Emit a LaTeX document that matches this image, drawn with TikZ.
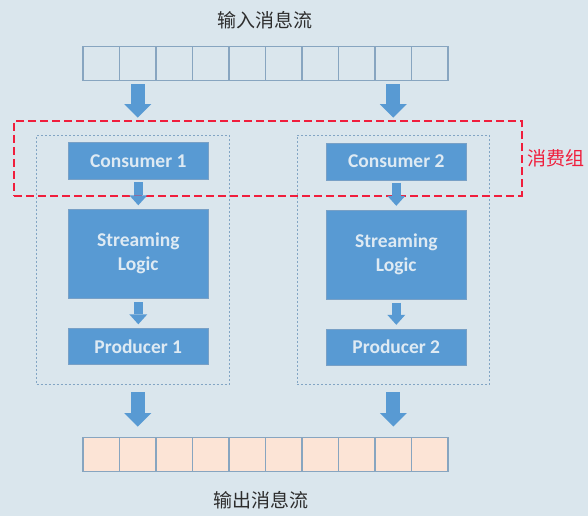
\documentclass[tikz,border=0pt]{standalone}
\usepackage{fontspec}
\setsansfont{Carlito}
\newfontfamily\cjk{Noto Sans CJK SC}
\usetikzlibrary{positioning}
\usetikzlibrary{calc}
\usetikzlibrary{arrows.meta}
\definecolor{sfondo}{RGB}{218,230,237}
\definecolor{blu}{RGB}{88,154,211}
\definecolor{blubordo}{RGB}{120,160,198}
\definecolor{testochiaro}{RGB}{222,234,243}
\definecolor{bordo}{RGB}{135,165,192}
\definecolor{pesca}{RGB}{252,228,214}
\definecolor{grigio}{RGB}{130,165,196}
\definecolor{rosso}{RGB}{240,30,60}
\definecolor{scuro}{RGB}{45,45,45}
\tikzset{
  coda/.style={rectangle, draw=bordo, line width=1.1pt, minimum width=36.5pt,
    minimum height=34pt, inner sep=0pt, outer sep=0pt},
  coda in/.style={coda, fill=sfondo},
  coda out/.style={coda, fill=pesca},
  blocco/.style={rectangle, fill=blu, draw=blubordo, line width=0.6pt,
    minimum width=140pt, inner sep=0pt, outer sep=0pt, text=testochiaro,
    font=\sffamily\bfseries\fontsize{19.5}{24}\selectfont, align=center},
  gruppo/.style={rectangle, draw=grigio, dash pattern=on 2pt off 2pt,
    line width=0.8pt, minimum width=192.6pt, minimum height=249pt},
  gruppo rosso/.style={rectangle, draw=rosso, dash pattern=on 8pt off 4pt,
    line width=1.8pt, minimum width=507.7pt, minimum height=74.7pt},
  freccia/.style={draw=blu, line width=14pt,
    -{Triangle[width=27pt,length=13.5pt,line width=0pt]}},
  freccina/.style={draw=blu, line width=9.4pt,
    -{Triangle[width=18pt,length=10pt,line width=0pt]}},
  titolo/.style={font=\cjk\fontsize{19}{22}\selectfont, text=scuro},
}

\begin{document}
\begin{tikzpicture}[x=1pt,y=-1pt]
    \fill[sfondo] (0,0) rectangle (588,516);
    \useasboundingbox (0,0) rectangle (588,516);

    % code di messaggi
    \foreach \i in {1,...,10}{
        \node[coda in] (in\i) at ({83+36.5*(\i-0.5)},63.5) {};
        \node[coda out] (out\i) at ({83+36.5*(\i-0.5)},454.5) {};
    }
    \node[titolo] (tin) at (265,20) {输入消息流};
    \node[titolo] (tout) at (261,500) {输出消息流};

    % gruppi
    \node[gruppo] (grp1) at (133,259.5) {};
    \node[gruppo] (grp2) at (393.3,259.5) {};

    % colonna 1
    \node[blocco, minimum height=37pt] (cons1) at (138.3,160.8) {Consumer 1};
    \node[blocco, minimum height=89pt, below=30pt of cons1] (logic1) {Streaming\\Logic};
    \node[blocco, minimum height=36pt, below=30pt of logic1] (prod1) {Producer 1};

    % colonna 2
    \node[blocco, minimum height=37pt] (cons2) at (396.3,161.3) {Consumer 2};
    \node[blocco, minimum height=89pt, below=30pt of cons2] (logic2) {Streaming\\Logic};
    \node[blocco, minimum height=36pt, below=30pt of logic2] (prod2) {Producer 2};

    % gruppo di consumo
    \node[gruppo rosso] (cg) at (267.85,158.35) {};
    \node[right=1pt of cg, text=rosso, font=\cjk\fontsize{19}{22}\selectfont] (cgl) {消费组};

    % frecce
    \draw[freccia] ([yshift=-4pt]in2.south) -- ([yshift=17pt]grp1.north -| in2.south);
    \draw[freccia] ([yshift=-4pt]in9.south) -- ([yshift=17pt]grp2.north -| in9.south);
    \draw[freccina] ([yshift=-3pt]cons1.south) -- ([yshift=4pt]logic1.north);
    \draw[freccina] ([yshift=-4pt]logic1.south) -- ([yshift=4pt]prod1.north);
    \draw[freccina] ([yshift=-3pt]cons2.south) -- ([yshift=4pt]logic2.north);
    \draw[freccina] ([yshift=-4pt]logic2.south) -- ([yshift=4pt]prod2.north);
    \draw[freccia] ([yshift=-8pt]grp1.south -| out2.north) -- ([yshift=11pt]out2.north);
    \draw[freccia] ([yshift=-8pt]grp2.south -| out9.north) -- ([yshift=11pt]out9.north);
\end{tikzpicture}
\end{document}
